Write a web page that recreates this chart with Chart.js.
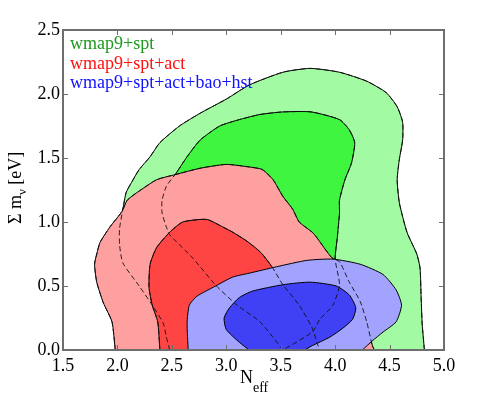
<!DOCTYPE html>
<html>
<head>
<meta charset="utf-8">
<script src="https://cdn.jsdelivr.net/npm/chart.js@4.4.1/dist/chart.umd.min.js"></script>
<style>
  body { margin: 0; background: #fff; }
  #wrap { width: 491px; height: 396px; }
</style>
</head>
<body>
<div id="wrap"><canvas id="c" width="491" height="396"></canvas></div>
<script>
// tick labels
var xTicks = ['1.5', '2.0', '2.5', '3.0', '3.5', '4.0', '4.5', '5.0'];
var yTicks = ['0.0', '0.5', '1.0', '1.5', '2.0', '2.5'];

// legend
var names = ['wmap9+spt', 'wmap9+spt+act', 'wmap9+spt+act+bao+hst'];
var nameColors = ['#1c9a1c', '#ff1010', '#1010ff'];

// contours, N_eff (x) and sum m_nu (y)
// wmap9+spt, 95%
var greenOuterN = [2.48, 2.45, 2.42, 2.32, 2.20, 2.05, 2.02, 2.02, 2.05, 2.08, 2.13, 2.20, 2.30, 2.39, 2.57, 2.76, 3.00, 3.21, 3.52, 3.77, 4.04, 4.29, 4.47, 4.57, 4.62, 4.62, 4.59, 4.57, 4.59, 4.66, 4.75, 4.78, 4.79, 4.80, 4.82];
var greenOuterM = [0.00, 0.10, 0.21, 0.35, 0.50, 0.68, 0.82, 0.95, 1.10, 1.23, 1.31, 1.41, 1.51, 1.62, 1.75, 1.85, 1.96, 2.07, 2.17, 2.20, 2.17, 2.10, 2.01, 1.90, 1.78, 1.64, 1.49, 1.33, 1.15, 0.92, 0.75, 0.64, 0.41, 0.20, 0.00];
// wmap9+spt, 68%
var greenInnerN = [3.52, 3.31, 3.10, 2.91, 2.69, 2.48, 2.45, 2.41, 2.41, 2.45, 2.51, 2.53, 2.64, 2.76, 2.94, 3.12, 3.31, 3.52, 3.78, 4.04, 4.13, 4.18, 4.15, 4.09, 4.04, 4.04, 4.02, 4.00, 4.04, 3.98, 3.86, 3.79, 3.52];
var greenInnerM = [0.00, 0.22, 0.35, 0.50, 0.72, 0.90, 0.96, 1.07, 1.17, 1.28, 1.35, 1.37, 1.51, 1.64, 1.75, 1.80, 1.84, 1.86, 1.86, 1.80, 1.72, 1.62, 1.46, 1.33, 1.17, 1.07, 0.88, 0.71, 0.51, 0.35, 0.24, 0.14, 0.00];
// wmap9+spt+act, 95%
var redOuterN = [1.98, 1.95, 1.87, 1.81, 1.79, 1.81, 1.84, 1.93, 2.04, 2.09, 2.18, 2.36, 2.53, 2.76, 3.00, 3.21, 3.33, 3.43, 3.52, 3.61, 3.67, 3.79, 3.83, 3.97, 4.04, 4.13, 4.23, 4.29, 4.34, 4.36];
var redOuterM = [0.00, 0.22, 0.37, 0.53, 0.67, 0.75, 0.84, 0.96, 1.08, 1.17, 1.23, 1.33, 1.37, 1.42, 1.45, 1.43, 1.41, 1.33, 1.20, 1.10, 1.00, 0.92, 0.88, 0.72, 0.69, 0.53, 0.38, 0.22, 0.04, 0.00];
// wmap9+spt+act, 68%
var redInnerN = [2.39, 2.37, 2.32, 2.29, 2.30, 2.36, 2.48, 2.60, 2.82, 2.97, 3.06, 3.19, 3.28, 3.33, 3.42, 3.52, 3.67, 3.79, 3.84, 3.86];
var redInnerM = [0.00, 0.22, 0.35, 0.49, 0.67, 0.80, 0.92, 1.00, 1.02, 0.96, 0.92, 0.85, 0.79, 0.75, 0.65, 0.51, 0.35, 0.17, 0.04, 0.00];
// wmap9+spt+act+bao+hst, 95%
var blueOuterN = [2.65, 2.64, 2.66, 2.73, 2.88, 3.06, 3.21, 3.46, 3.74, 3.98, 4.23, 4.44, 4.56, 4.61, 4.56, 4.44, 4.34, 4.25];
var blueOuterM = [0.00, 0.21, 0.35, 0.42, 0.49, 0.57, 0.60, 0.65, 0.70, 0.71, 0.67, 0.59, 0.47, 0.35, 0.22, 0.14, 0.07, 0.00];
// wmap9+spt+act+bao+hst, 68%
var blueInnerN = [3.21, 3.12, 3.00, 2.98, 3.03, 3.12, 3.24, 3.52, 3.77, 4.01, 4.13, 4.19, 4.16, 4.07, 3.95, 3.78, 3.72];
var blueInnerM = [0.00, 0.06, 0.16, 0.25, 0.33, 0.41, 0.46, 0.51, 0.53, 0.50, 0.43, 0.33, 0.24, 0.17, 0.10, 0.03, 0.00];

var SERIF = '"Liberation Serif", "Times New Roman", serif';
var FRAME = '#6e6e6e';

function pts(xs, ys) {
    var out = [];
    for (var i = 0; i < xs.length; i++) out.push({x: xs[i], y: ys[i]});
    return out;
}

function region(xs, ys, color, order) {
    return {
        data: pts(xs, ys),
        showLine: true,
        fill: 'shape',
        backgroundColor: color,
        borderColor: '#000',
        borderWidth: 1,
        pointRadius: 0,
        tension: 0.2,
        order: order
    };
}

function hidden(xs, ys) {
    return {
        data: pts(xs, ys),
        showLine: true,
        fill: false,
        borderColor: '#111',
        borderWidth: 0.9,
        borderDash: [5, 3],
        pointRadius: 0,
        tension: 0.2,
        order: 0
    };
}

function axis(pos, lo, hi, pad, fit) {
    return {
        type: 'linear', position: pos, min: lo, max: hi,
        grid: { display: false, drawTicks: false }, border: { display: false },
        afterFit: fit,
        ticks: {
            stepSize: 0.5, autoSkip: false, maxRotation: 0, padding: pad,
            color: '#000', font: { family: SERIF, size: 18 },
            callback: function (v) { return v.toFixed(1); }
        }
    };
}

// frame with inward ticks, legend text and axis titles
var decor = {
    id: 'decor',
    afterDraw: function (chart) {
        var ctx = chart.ctx, a = chart.chartArea;
        var xs = chart.scales.x, ys = chart.scales.y;
        var L = Math.round(a.left), R = Math.round(a.right), T = Math.round(a.top), B = Math.round(a.bottom);
        ctx.save();
        ctx.setLineDash([]);
        ctx.globalAlpha = 1;
        ctx.globalCompositeOperation = 'source-over';
        ctx.fillStyle = FRAME;
        ctx.fillRect(L - 1, T - 1, R - L + 2, 2);
        ctx.fillRect(L - 1, B - 1, R - L + 2, 2);
        ctx.fillRect(L - 1, T - 1, 2, B - T + 2);
        ctx.fillRect(R - 1, T - 1, 2, B - T + 2);
        xTicks.forEach(function (t) {
            var px = Math.round(xs.getPixelForValue(parseFloat(t)));
            ctx.fillRect(px, B - 5, 1, 5);
            ctx.fillRect(px, T, 1, 5);
        });
        yTicks.forEach(function (t) {
            var py = Math.round(ys.getPixelForValue(parseFloat(t)));
            ctx.fillRect(L, py, 5, 1);
            ctx.fillRect(R - 5, py, 5, 1);
        });

        ctx.textBaseline = 'alphabetic';
        ctx.textAlign = 'left';
        ctx.font = '18px ' + SERIF;
        names.forEach(function (n, i) {
            ctx.fillStyle = nameColors[i];
            ctx.fillText(n, a.left + 7, a.top + 19 + i * 19.5);
        });
        // x title: N_eff
        ctx.fillStyle = '#000';
        ctx.font = '18px ' + SERIF;
        ctx.fillText('N', 240, 383);
        ctx.font = '14px ' + SERIF;
        ctx.fillText('eff', 253, 392);
        // y title: Σ m_ν [eV]
        ctx.translate(21, 224);
        ctx.rotate(-Math.PI / 2);
        ctx.font = '18px ' + SERIF;
        var w1 = ctx.measureText('Σ m').width;
        ctx.fillText('Σ m', 0, 0);
        ctx.font = '13px ' + SERIF;
        var w2 = ctx.measureText('ν').width;
        ctx.fillText('ν', w1, 5);
        ctx.font = '18px ' + SERIF;
        ctx.fillText(' [eV]', w1 + w2, 0);
        ctx.restore();
    }
};

new Chart(document.getElementById('c'), {
    type: 'scatter',
    data: {
        datasets: [
            region(greenOuterN, greenOuterM, '#a2fba2', 6),
            region(greenInnerN, greenInnerM, '#40f540', 5),
            region(redOuterN, redOuterM, '#ffa0a0', 4),
            region(redInnerN, redInnerM, '#ff4444', 3),
            region(blueOuterN, blueOuterM, '#a2a2ff', 2),
            region(blueInnerN, blueInnerM, '#4040f5', 1),
            hidden(greenOuterN, greenOuterM),
            hidden(greenInnerN, greenInnerM),
            hidden(redOuterN, redOuterM),
            hidden(redInnerN, redInnerM)
        ]
    },
    options: {
        responsive: false,
        animation: false,
        layout: { padding: { top: 30, right: 47, left: 0, bottom: 0 } },
        plugins: { legend: { display: false }, tooltip: { enabled: false } },
        scales: {
            x: axis('bottom', parseFloat(xTicks[0]), parseFloat(xTicks[xTicks.length - 1]), 5, function (s) { s.height = 46; }),
            y: axis('left', parseFloat(yTicks[0]), parseFloat(yTicks[yTicks.length - 1]), 3, function (s) { s.width = 63; })
        }
    },
    plugins: [decor]
});
</script>
</body>
</html>
